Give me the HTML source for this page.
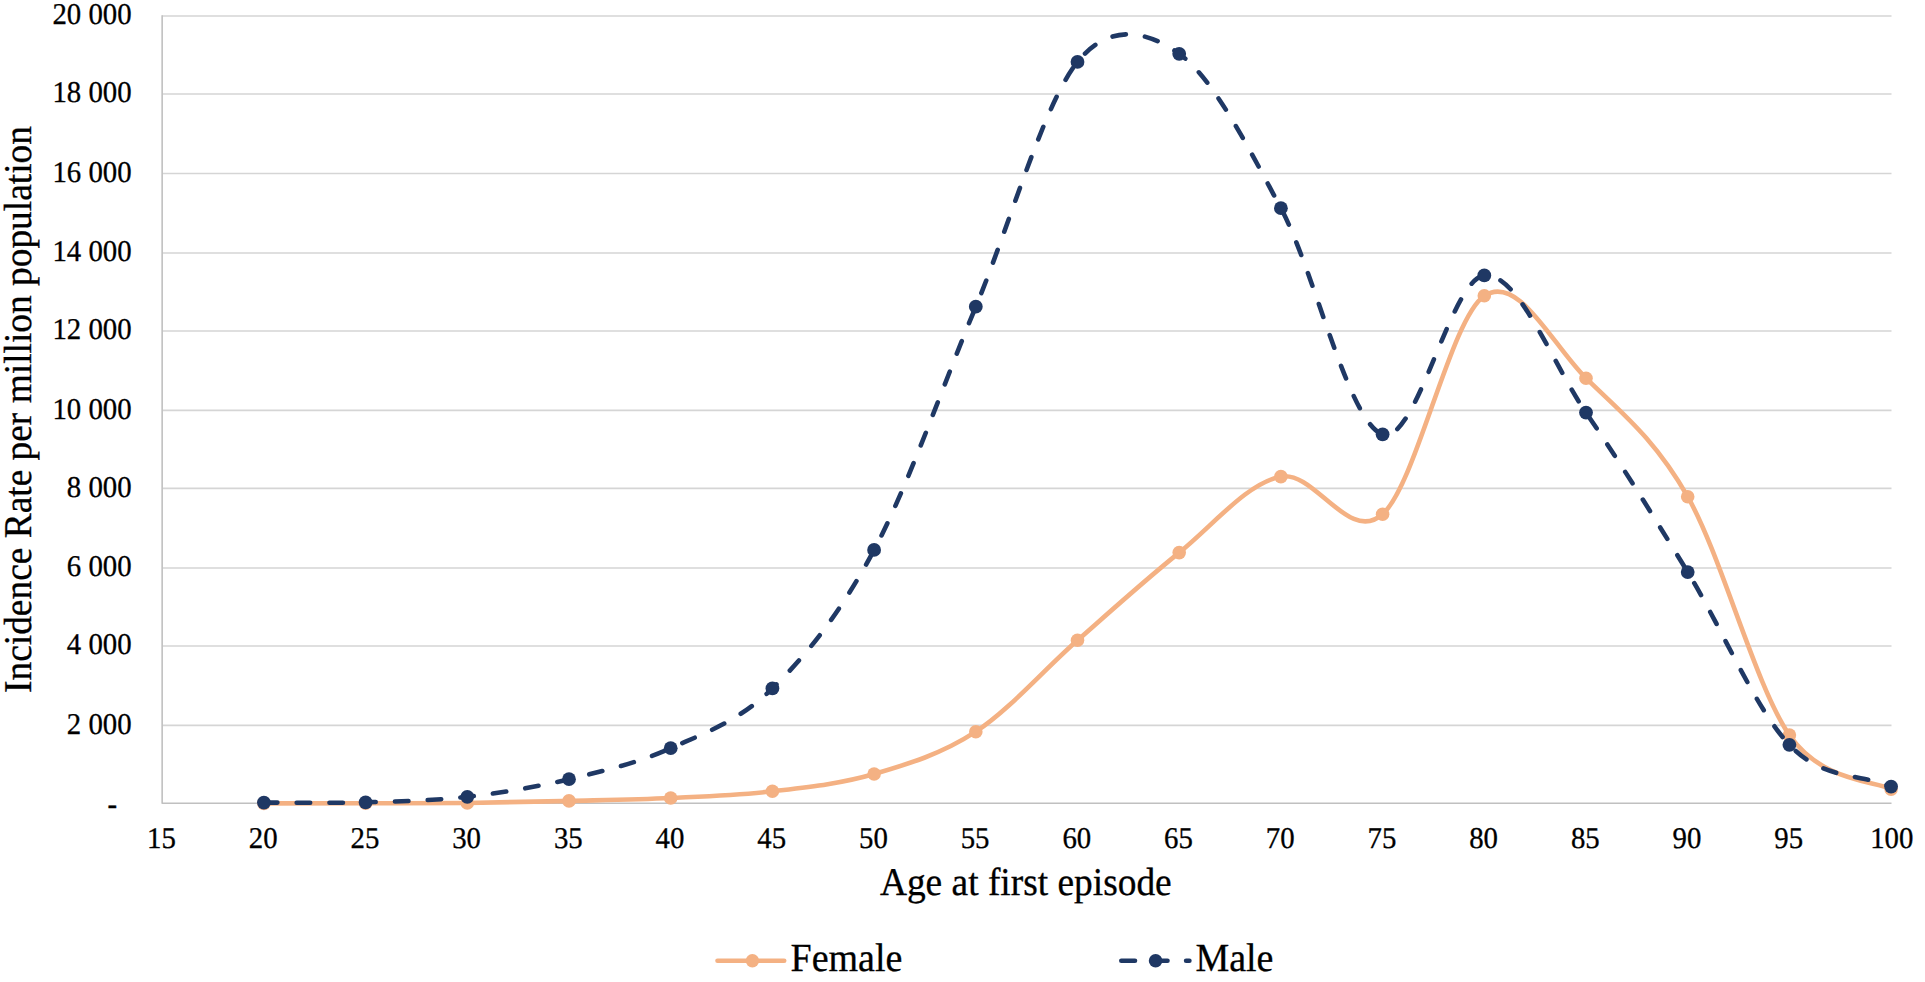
<!DOCTYPE html>
<html><head><meta charset="utf-8"><title>Incidence rate by age at first episode</title>
<style>html,body{margin:0;padding:0;background:#fff;}body{width:1925px;height:982px;overflow:hidden;}svg{display:block;}text{text-rendering:geometricPrecision;font-kerning:none;font-family:"Liberation Serif","Times New Roman",serif;fill:#000;stroke:#000;stroke-width:0.3px;}</style></head><body>
<svg width="1925" height="982" viewBox="0 0 1925 982">
<rect width="1925" height="982" fill="#fff"/>
<g stroke="#d5d5d5" stroke-width="1.6"><line x1="162.2" y1="725.35" x2="1891.5" y2="725.35"/><line x1="162.2" y1="646.00" x2="1891.5" y2="646.00"/><line x1="162.2" y1="568.00" x2="1891.5" y2="568.00"/><line x1="162.2" y1="488.35" x2="1891.5" y2="488.35"/><line x1="162.2" y1="410.40" x2="1891.5" y2="410.40"/><line x1="162.2" y1="331.00" x2="1891.5" y2="331.00"/><line x1="162.2" y1="253.00" x2="1891.5" y2="253.00"/><line x1="162.2" y1="173.45" x2="1891.5" y2="173.45"/><line x1="162.2" y1="94.00" x2="1891.5" y2="94.00"/><line x1="162.2" y1="16.00" x2="1891.5" y2="16.00"/></g>
<path d="M162.15 15.2V803.2H1891.5" fill="none" stroke="#c0c0c0" stroke-width="1.6" stroke-linejoin="round"/>
<g font-size="28.8" text-anchor="end" xml:space="preserve"><text transform="translate(131.6 813.5) scale(1 1.045)">-  </text><text transform="translate(131.6 733.6) scale(1 1.045)">2 000</text><text transform="translate(131.6 654.2) scale(1 1.045)">4 000</text><text transform="translate(131.6 576.2) scale(1 1.045)">6 000</text><text transform="translate(131.6 496.6) scale(1 1.045)">8 000</text><text transform="translate(131.6 418.6) scale(1 1.045)">10 000</text><text transform="translate(131.6 339.2) scale(1 1.045)">12 000</text><text transform="translate(131.6 261.2) scale(1 1.045)">14 000</text><text transform="translate(131.6 181.6) scale(1 1.045)">16 000</text><text transform="translate(131.6 102.2) scale(1 1.045)">18 000</text><text transform="translate(131.6 24.2) scale(1 1.045)">20 000</text></g>
<g font-size="28.8" text-anchor="middle"><text transform="translate(161.5 847.7) scale(1 1.045)">15</text><text transform="translate(263.2 847.7) scale(1 1.045)">20</text><text transform="translate(364.9 847.7) scale(1 1.045)">25</text><text transform="translate(466.6 847.7) scale(1 1.045)">30</text><text transform="translate(568.3 847.7) scale(1 1.045)">35</text><text transform="translate(670.0 847.7) scale(1 1.045)">40</text><text transform="translate(771.7 847.7) scale(1 1.045)">45</text><text transform="translate(873.4 847.7) scale(1 1.045)">50</text><text transform="translate(975.1 847.7) scale(1 1.045)">55</text><text transform="translate(1076.8 847.7) scale(1 1.045)">60</text><text transform="translate(1178.5 847.7) scale(1 1.045)">65</text><text transform="translate(1280.2 847.7) scale(1 1.045)">70</text><text transform="translate(1381.9 847.7) scale(1 1.045)">75</text><text transform="translate(1483.6 847.7) scale(1 1.045)">80</text><text transform="translate(1585.3 847.7) scale(1 1.045)">85</text><text transform="translate(1687.0 847.7) scale(1 1.045)">90</text><text transform="translate(1788.7 847.7) scale(1 1.045)">95</text><text transform="translate(1891.8 847.7) scale(1 1.045)">100</text></g>
<text font-size="37.4" text-anchor="middle" transform="translate(1025.8 894.5) scale(1 1.05)">Age at first episode</text>
<text font-size="37.4" text-anchor="middle" transform="translate(31 409.5) rotate(-90) scale(1 1.05)">Incidence Rate per million population</text>
<path d="M263.90 803.40 C297.80 803.37 331.70 803.37 365.60 803.30 C399.50 803.23 433.40 803.40 467.30 803.00 C501.20 802.60 535.10 801.73 569.00 800.90 C602.90 800.07 636.80 799.60 670.70 798.00 C704.60 796.40 738.50 795.30 772.40 791.30 C806.30 787.30 840.20 783.93 874.10 774.00 C908.00 764.07 941.90 753.98 975.80 731.70 C1009.70 709.42 1043.60 670.15 1077.50 640.30 C1111.40 610.45 1145.30 579.88 1179.20 552.60 C1213.10 525.32 1247.00 483.00 1280.90 476.60 C1314.80 470.20 1348.70 544.33 1382.60 514.20 C1416.50 484.07 1450.40 318.47 1484.30 295.80 C1518.20 273.13 1552.10 344.72 1586.00 378.20 C1619.90 411.68 1653.80 437.22 1687.70 496.70 C1721.60 556.18 1755.50 686.37 1789.40 735.10 C1822.28 782.36 1874.66 780.37 1891.10 789.10" fill="none" stroke="#f4b183" stroke-width="4.6" stroke-linecap="round" stroke-linejoin="round"/>
<g fill="#f4b183"><circle cx="263.9" cy="803.4" r="6.8"/><circle cx="365.6" cy="803.3" r="6.8"/><circle cx="467.3" cy="803.0" r="6.8"/><circle cx="569.0" cy="800.9" r="6.8"/><circle cx="670.7" cy="798.0" r="6.8"/><circle cx="772.4" cy="791.3" r="6.8"/><circle cx="874.1" cy="774.0" r="6.8"/><circle cx="975.8" cy="731.7" r="6.8"/><circle cx="1077.5" cy="640.3" r="6.8"/><circle cx="1179.2" cy="552.6" r="6.8"/><circle cx="1280.9" cy="476.6" r="6.8"/><circle cx="1382.6" cy="514.2" r="6.8"/><circle cx="1484.3" cy="295.8" r="6.8"/><circle cx="1586.0" cy="378.2" r="6.8"/><circle cx="1687.7" cy="496.7" r="6.8"/><circle cx="1789.4" cy="735.1" r="6.8"/><circle cx="1891.1" cy="789.1" r="6.8"/></g>
<path d="M263.90 802.60 C297.80 802.50 331.70 803.27 365.60 802.30 C399.50 801.33 433.40 800.65 467.30 796.80 C501.20 792.95 535.10 787.30 569.00 779.20 C602.90 771.10 636.80 763.33 670.70 748.20 C704.60 733.07 738.50 721.45 772.40 688.40 C806.30 655.35 840.20 613.52 874.10 549.90 C908.00 486.28 941.90 388.03 975.80 306.70 C1009.70 225.37 1043.60 104.05 1077.50 61.90 C1109.47 22.15 1147.23 30.81 1179.20 53.80 C1213.10 78.18 1247.00 144.78 1280.90 208.20 C1314.80 271.62 1348.70 423.10 1382.60 434.30 C1416.50 445.50 1450.40 279.02 1484.30 275.40 C1518.20 271.78 1552.10 363.15 1586.00 412.60 C1619.90 462.05 1653.80 516.73 1687.70 572.10 C1721.60 627.47 1755.50 709.05 1789.40 744.80 C1823.30 780.55 1857.20 772.67 1891.10 786.60" fill="none" stroke="#1f3864" stroke-width="4.6" stroke-linecap="round" stroke-linejoin="round" stroke-dasharray="13.5 19.27"/>
<g fill="#1f3864"><circle cx="263.9" cy="802.6" r="6.9"/><circle cx="365.6" cy="802.3" r="6.9"/><circle cx="467.3" cy="796.8" r="6.9"/><circle cx="569.0" cy="779.2" r="6.9"/><circle cx="670.7" cy="748.2" r="6.9"/><circle cx="772.4" cy="688.4" r="6.9"/><circle cx="874.1" cy="549.9" r="6.9"/><circle cx="975.8" cy="306.7" r="6.9"/><circle cx="1077.5" cy="61.9" r="6.9"/><circle cx="1179.2" cy="53.8" r="6.9"/><circle cx="1280.9" cy="208.2" r="6.9"/><circle cx="1382.6" cy="434.3" r="6.9"/><circle cx="1484.3" cy="275.4" r="6.9"/><circle cx="1586.0" cy="412.6" r="6.9"/><circle cx="1687.7" cy="572.1" r="6.9"/><circle cx="1789.4" cy="744.8" r="6.9"/><circle cx="1891.1" cy="786.6" r="6.9"/></g>
<line x1="717.5" y1="960.7" x2="784.2" y2="960.7" stroke="#f4b183" stroke-width="4.6" stroke-linecap="round"/><circle cx="752.4" cy="960.7" r="6.7" fill="#f4b183"/>
<text font-size="38" transform="translate(790.5 971.2) scale(1 1.05)">Female</text>
<path d="M1121.3 960.7H1135M1153.7 960.7H1167.5M1186.1 960.7H1189.4" stroke="#1f3864" stroke-width="4.6" stroke-linecap="round" fill="none"/><circle cx="1155.6" cy="960.7" r="6.8" fill="#1f3864"/>
<text font-size="38" transform="translate(1195.4 971.2) scale(1 1.05)">Male</text>
</svg></body></html>
